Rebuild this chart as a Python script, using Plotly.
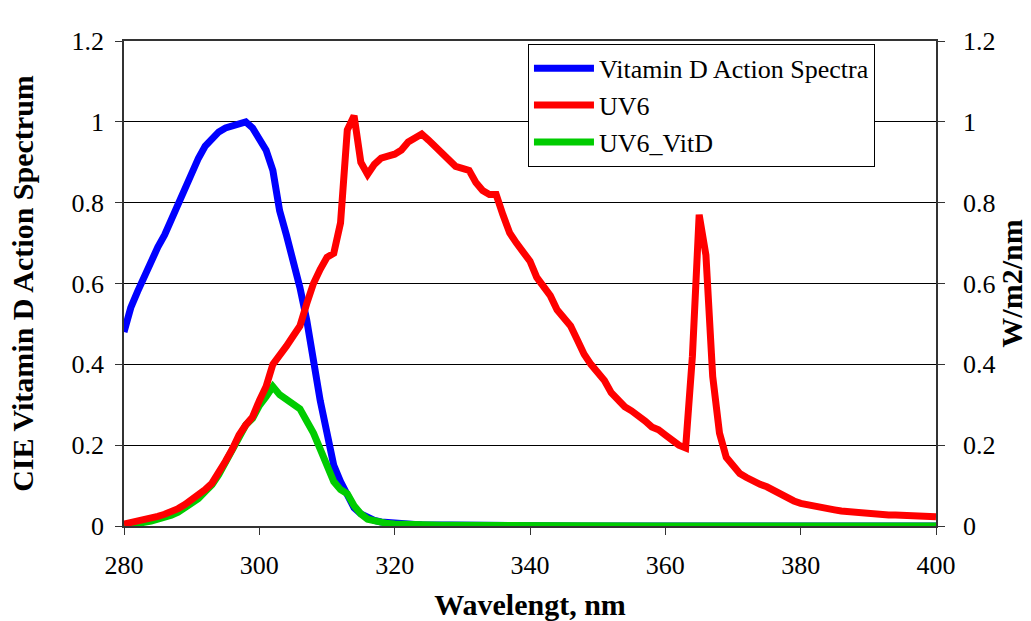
import plotly.graph_objects as go

wavelength = list(range(280, 401))

vitd_action = [
    0.48, 0.54, 0.58, 0.62, 0.65, 0.69, 0.72, 0.76, 0.80, 0.84,
    0.88, 0.91, 0.94, 0.96, 0.975, 0.985, 0.99, 0.997, 1.0, 0.985,
    0.96, 0.93, 0.88, 0.78, 0.72, 0.66, 0.59, 0.51, 0.40, 0.31,
    0.23, 0.15, 0.11, 0.08, 0.045, 0.03, 0.02, 0.014, 0.01, 0.008,
    0.006, 0.005, 0.004, 0.0035, 0.003, 0.0027, 0.0024, 0.0021, 0.0019, 0.0017,
    0.0015, 0.0013, 0.0012, 0.0011, 0.001, 0.0009, 0.0008, 0.0007, 0.0006, 0.0005,
    0.0005, 0.0005, 0.0004, 0.0004, 0.0004, 0.0003, 0.0003, 0.0003, 0.0003, 0.0002,
    0.0002, 0.0002, 0.0002, 0.0002, 0.0002, 0.0002, 0.0002, 0.0002, 0.0002, 0.0002,
    0.0002, 0.0002, 0.0002, 0.0002, 0.0002, 0.0001, 0.0001, 0.0001, 0.0001, 0.0001,
    0.0001, 0.0001, 0.0001, 0.0001, 0.0001, 0.0001, 0.0001, 0.0001, 0.0001, 0.0001,
    0.0001, 0.0001, 0.0001, 0.0001, 0.0001, 0.0001, 0.0001, 0.0001, 0.0001, 0.0001,
    0.0001, 0.0001, 0.0001, 0.0001, 0.0001, 0.0001, 0.0001, 0.0001, 0.0001, 0.0001,
    0.0001,
]

uv6 = [
    0.005, 0.008, 0.011, 0.015, 0.019, 0.024, 0.029, 0.035, 0.043, 0.053,
    0.064, 0.075, 0.09, 0.106, 0.13, 0.16, 0.19, 0.225, 0.25, 0.27,
    0.31, 0.345, 0.40, 0.42, 0.445, 0.47, 0.495, 0.55, 0.60, 0.635,
    0.665, 0.675, 0.75, 0.98, 1.015, 0.90, 0.87, 0.895, 0.91, 0.915,
    0.92, 0.93, 0.95, 0.96, 0.97, 0.955, 0.94, 0.92, 0.91, 0.89,
    0.885, 0.88, 0.85, 0.83, 0.82, 0.82, 0.77, 0.725, 0.70, 0.68,
    0.655, 0.615, 0.59, 0.57, 0.535, 0.515, 0.495, 0.46, 0.425, 0.40,
    0.38, 0.36, 0.33, 0.31, 0.295, 0.285, 0.275, 0.26, 0.245, 0.238,
    0.225, 0.21, 0.20, 0.193, 0.42, 0.77, 0.67, 0.37, 0.23, 0.17,
    0.15, 0.13, 0.12, 0.11, 0.103, 0.097, 0.087, 0.078, 0.07, 0.062,
    0.056, 0.052, 0.048, 0.045, 0.042, 0.04, 0.037, 0.035, 0.033, 0.031,
    0.03, 0.029, 0.027, 0.027, 0.027, 0.026, 0.025, 0.023, 0.024, 0.024,
    0.023,
]

uv6_vitd = [
    0.003, 0.004, 0.006, 0.009, 0.012, 0.016, 0.021, 0.027, 0.034, 0.044,
    0.056, 0.068, 0.085, 0.102, 0.127, 0.158, 0.19, 0.224, 0.25, 0.266,
    0.298, 0.32, 0.345, 0.325, 0.315, 0.305, 0.29, 0.26, 0.23, 0.19,
    0.15, 0.11, 0.09, 0.08, 0.05, 0.03, 0.017, 0.012, 0.008, 0.006,
    0.005, 0.004, 0.0035, 0.003, 0.003, 0.0026, 0.0023, 0.002, 0.0017, 0.0015,
    0.0013, 0.0012, 0.001, 0.0009, 0.0008, 0.0007, 0.0006, 0.0005, 0.0004, 0.0003,
    0.0003, 0.0003, 0.0002, 0.0002, 0.0002, 0.0002, 0.0002, 0.0002, 0.0002, 0.0001,
    0.0001, 0.0001, 0.0001, 0.0001, 0.0001, 0.0001, 0.0001, 0.0001, 0.0001, 0.0001,
    0.0001, 0.0001, 0.0001, 0.0001, 0.0001, 0.0001, 0.0001, 0.0001, 0.0001, 0.0001,
    0.0001, 0.0001, 0.0001, 0.0001, 0.0001, 0.0001, 0.0001, 0.0001, 0.0001, 0.0001,
    0.0001, 0.0001, 0.0001, 0.0001, 0.0001, 0.0001, 0.0001, 0.0001, 0.0001, 0.0001,
    0.0001, 0.0001, 0.0001, 0.0001, 0.0001, 0.0001, 0.0001, 0.0001, 0.0001, 0.0001,
    0.0001,
]

series_names = ["Vitamin D Action Spectra", "UV6", "UV6_VitD"]
series_colors = ["#0000FF", "#FF0000", "#00CC00"]

x_ticks = [280, 300, 320, 340, 360, 380, 400]
y_ticks = [0, 0.2, 0.4, 0.6, 0.8, 1, 1.2]
y_ticklabels = ["0", "0.2", "0.4", "0.6", "0.8", "1", "1.2"]

FONT = "Liberation Serif"

fig = go.Figure()
fig.add_trace(go.Scatter(x=wavelength, y=vitd_action, name=series_names[0], mode="lines",
                         line=dict(color=series_colors[0], width=7), yaxis="y"))
fig.add_trace(go.Scatter(x=wavelength, y=uv6, name=series_names[1], mode="lines",
                         line=dict(color=series_colors[1], width=7), yaxis="y2"))
fig.add_trace(go.Scatter(x=wavelength, y=uv6_vitd, name=series_names[2], mode="lines",
                         line=dict(color=series_colors[2], width=7), yaxis="y"))

axis_common = dict(showline=True, linecolor="#333333", linewidth=1.5, ticks="outside",
                   ticklen=7, tickcolor="#333333", zeroline=False, automargin=False,
                   tickfont=dict(family=FONT, size=26, color="black"))

fig.update_layout(
    width=1031, height=621,
    margin=dict(l=124, r=95, t=41, b=95, autoexpand=False),
    paper_bgcolor="white", plot_bgcolor="white",
    font=dict(family=FONT, color="black"),
    showlegend=True,
    legend=dict(x=0.4975, y=0.994, xanchor="left", yanchor="top",
                bgcolor="white", bordercolor="black", borderwidth=1,
                font=dict(family=FONT, size=26, color="black"),
                itemwidth=60, tracegroupgap=0),
    xaxis=dict(range=[280, 400], tickvals=x_ticks, showgrid=False, mirror=True,
               title=dict(text="<b>Wavelengt, nm</b>", font=dict(family=FONT, size=30), standoff=15),
               ticklabelstandoff=8, **axis_common),
    yaxis=dict(range=[0, 1.2], tickvals=y_ticks, ticktext=y_ticklabels, showgrid=True,
               gridcolor="black", gridwidth=1,
               title=dict(text="<b>CIE Vitamin D Action Spectrum</b>", font=dict(family=FONT, size=30), standoff=29),
               ticklabelstandoff=6, **axis_common),
    yaxis2=dict(range=[0, 1.2], tickvals=y_ticks, ticktext=y_ticklabels, overlaying="y", side="right",
                showgrid=False,
                title=dict(text="<b>W/m2/nm</b>", font=dict(family=FONT, size=30), standoff=4),
                ticklabelstandoff=13, **axis_common),
)

fig.write_html("out.html", config={"displayModeBar": False},
               post_script="document.body.style.margin='0px';")
